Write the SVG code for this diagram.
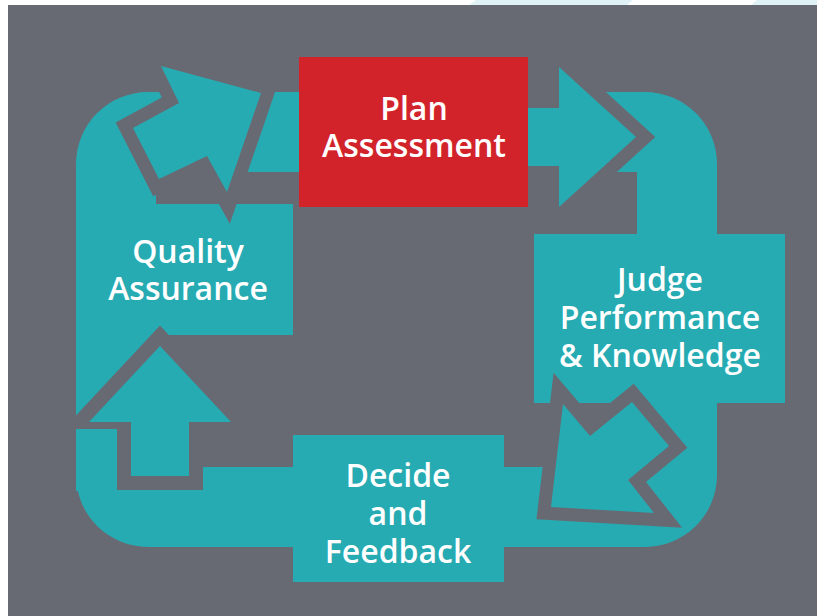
<svg xmlns="http://www.w3.org/2000/svg" width="817" height="616" viewBox="0 0 817 616">
  <style>
    .teal { fill: #26abb3; }
    .gap { fill: #686a73; stroke: #686a73; stroke-width: 26; stroke-linejoin: miter; stroke-miterlimit: 10; }
    .gap14 { stroke-width: 28; }
    .lbl { font-family: "Open Sans", "Liberation Sans", sans-serif; font-weight: 600; font-size: 32px; fill: #ffffff; text-anchor: middle; }
  </style>
  <rect x="0" y="0" width="817" height="616" fill="#ffffff"/>
  <polygon points="476,0 633,0 627,5 469,5" fill="#dff3f6"/>
  <polygon points="757,0 817,0 817,5 751,5" fill="#dff3f6"/>
  <rect x="8" y="5" width="809" height="611" fill="#686a73"/>

  <g id="connectors">
    <path id="ring" class="teal" fill-rule="evenodd" d="M148,92 H645 A72,72 0 0 1 717,164 V475 A72,72 0 0 1 645,547 H148 A72,72 0 0 1 76,475 V164 A72,72 0 0 1 148,92 Z M156,172 V467 H637 V172 Z"/>
    <rect x="526" y="88" width="34" height="88" fill="#686a73"/>
    <g id="arrow-right">
      <polygon class="gap" points="528,108 559,108 559,67 636,137 559,207 559,166 528,166"/>
      <polygon class="teal" points="528,108 559,108 559,67 636,137 559,207 559,166 528,166"/>
    </g>
  </g>

  <g id="node-qa">
    <rect class="teal" x="76" y="204" width="217" height="131"/>
  </g>
  <g id="node-judge">
    <rect class="teal" x="534" y="234" width="251" height="169"/>
  </g>
  <g id="node-decide">
    <rect class="teal" x="293" y="435" width="211" height="147"/>
  </g>

  <g id="connectors-2">
    <g id="arrow-topleft">
      <polygon class="gap" points="261,93 161,66 179,103 133,128 159,179 207,156 227,192"/>
      <polygon class="teal" points="261,93 161,66 179,103 133,128 159,179 207,156 227,192"/>
    </g>
    <g id="arrow-up">
      <polygon class="gap gap14" points="160,346 231,422 189,422 189,476 131,476 131,422 89,422"/>
      <rect class="teal" x="76" y="429" width="41" height="62"/>
      <polygon class="teal" points="160,346 231,422 189,422 189,476 131,476 131,422 89,422"/>
    </g>
    <g id="arrow-downleft">
      <polygon class="gap" points="563,404 590,436 632,402 669,446 628,480 654,513 551,507"/>
      <polygon class="teal" points="563,404 590,436 632,402 669,446 628,480 654,513 551,507"/>
    </g>
  </g>

  <g id="node-plan">
    <rect x="299" y="57" width="229" height="150" fill="#d2232b"/>
    <text class="lbl" x="414" y="120">Plan</text>
    <text class="lbl" x="414" y="157">Assessment</text>
  </g>
  <g id="node-qa-text">
    <text class="lbl" x="188" y="263">Quality</text>
    <text class="lbl" x="188" y="300">Assurance</text>
  </g>
  <g id="node-judge-text">
    <text class="lbl" x="660" y="291">Judge</text>
    <text class="lbl" x="660" y="329">Performance</text>
    <text class="lbl" x="660" y="367">&amp; Knowledge</text>
  </g>
  <g id="node-decide-text">
    <text class="lbl" x="398" y="487">Decide</text>
    <text class="lbl" x="398" y="525">and</text>
    <text class="lbl" x="398" y="563">Feedback</text>
  </g>
</svg>
